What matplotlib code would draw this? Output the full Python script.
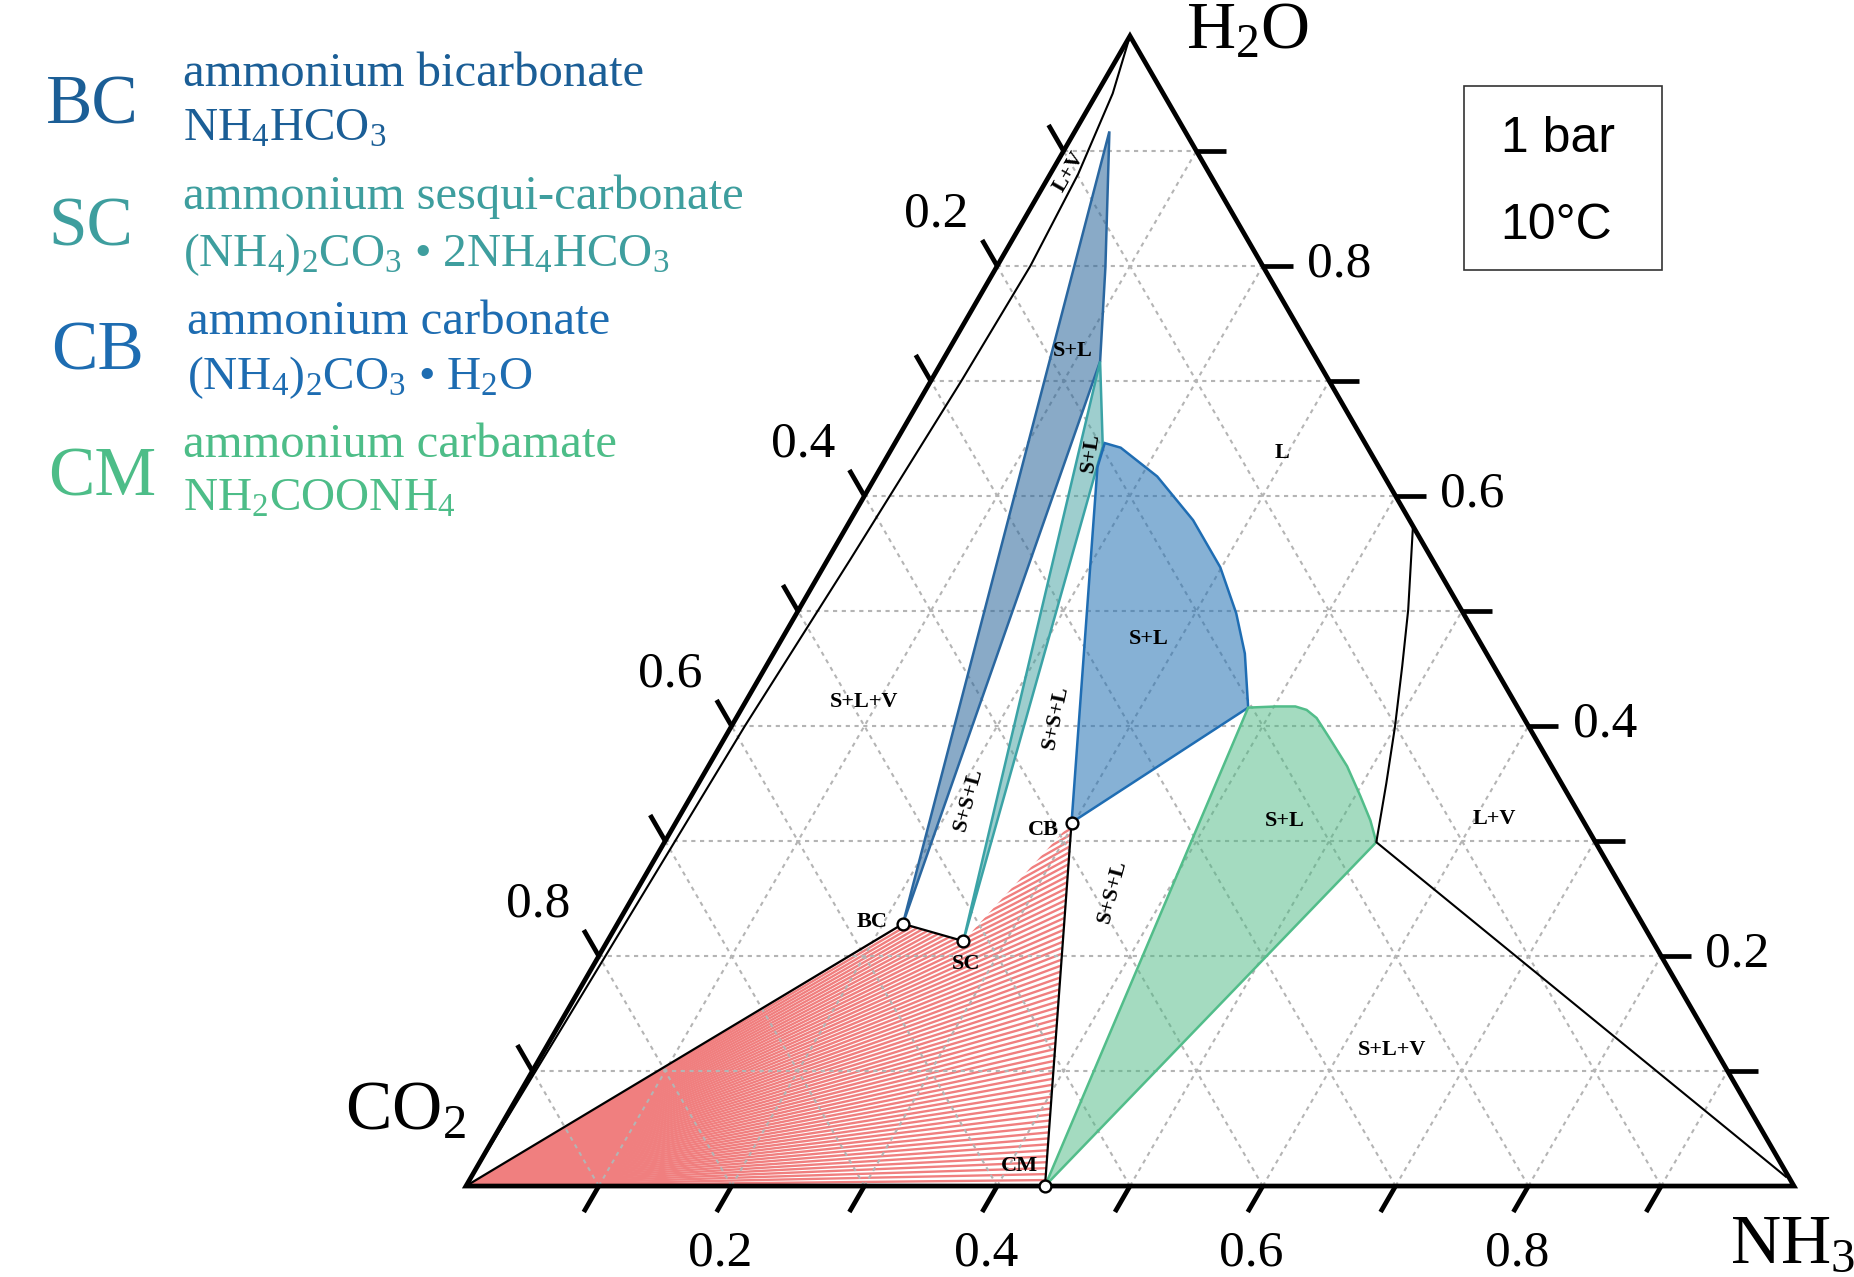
import numpy as np
import matplotlib
matplotlib.use('Agg')
import matplotlib.pyplot as plt
from matplotlib.patches import Polygon, Rectangle
from matplotlib.collections import LineCollection

plt.rcParams['font.family'] = ['Liberation Serif', 'DejaVu Serif']
plt.rcParams['mathtext.fontset'] = 'custom'
plt.rcParams['mathtext.rm'] = 'Liberation Serif'
plt.rcParams['mathtext.it'] = 'Liberation Serif:italic'
plt.rcParams['mathtext.bf'] = 'Liberation Serif:bold'

# ---------------- data (mass fractions: NH3, H2O; CO2 = 1 - NH3 - H2O) ----------------
compound_names = ['BC', 'SC', 'CB', 'CM']
compound_nh3 = [0.215, 0.268, 0.298, 0.436]
compound_h2o = [0.228, 0.213, 0.316, 0.000]

bc_region_nh3 = [0.215, 0.026, 0.082, 0.119]
bc_region_h2o = [0.228, 0.917, 0.799, 0.717]

sc_region_nh3 = [0.268, 0.119, 0.158]
sc_region_h2o = [0.213, 0.717, 0.643]

cb_region_nh3 = [0.298, 0.163, 0.158, 0.172, 0.212, 0.258, 0.299, 0.331, 0.355, 0.381]
cb_region_h2o = [0.316, 0.625, 0.646, 0.642, 0.617, 0.579, 0.538, 0.498, 0.463, 0.416]

cm_region_nh3 = [0.436, 0.381, 0.402, 0.416, 0.426, 0.437, 0.456, 0.481, 0.504, 0.522, 0.536]
cm_region_h2o = [0.000, 0.416, 0.417, 0.417, 0.414, 0.407, 0.389, 0.365, 0.339, 0.318, 0.299]

lv_left_nh3 = [0.000, 0.012, 0.021, 0.025, 0.023, 0.017, 0.010, 0.005, 0.000]
lv_left_h2o = [1.000, 0.950, 0.880, 0.800, 0.700, 0.545, 0.400, 0.200, 0.000]

lv_right_nh3 = [0.427, 0.459, 0.479, 0.500, 0.518, 0.536, 0.990]
lv_right_h2o = [0.572, 0.501, 0.452, 0.399, 0.350, 0.299, 0.008]

tick_values = [0.1, 0.2, 0.3, 0.4, 0.5, 0.6, 0.7, 0.8, 0.9]
tick_label_values = [0.2, 0.4, 0.6, 0.8]

region_labels = ['L+V', 'S+L', 'S+L', 'L', 'S+L', 'S+L+V', 'S+S+L', 'S+S+L',
                 'CB', 'BC', 'SC', 'S+S+L', 'CM', 'S+L', 'L+V', 'S+L+V']
region_label_nh3 = [0.013, 0.094, 0.151, 0.296, 0.276, 0.089, 0.240, 0.210,
                    0.280, 0.191, 0.280, 0.359, 0.408, 0.458, 0.615, 0.638]
region_label_h2o = [0.882, 0.726, 0.638, 0.637, 0.476, 0.421, 0.408, 0.336,
                    0.310, 0.230, 0.193, 0.256, 0.017, 0.317, 0.319, 0.118]
region_label_rot = [60, 0, 82, 0, 0, 0, 78, 75, 0, 0, 0, 75, 0, 0, 0, 0]

legend_abbr = ['BC', 'SC', 'CB', 'CM']
legend_name = ['ammonium bicarbonate', 'ammonium sesqui-carbonate',
               'ammonium carbonate', 'ammonium carbamate']
legend_formula = [r'NH$_4$HCO$_3$',
                  r'(NH$_4$)$_2$CO$_3$ • 2NH$_4$HCO$_3$',
                  r'(NH$_4$)$_2$CO$_3$ • H$_2$O',
                  r'NH$_2$COONH$_4$']
legend_colors = ['#1b5e96', '#3e9e9e', '#1d6cb1', '#4dbd88']

# ---------------- helpers ----------------
S = np.sqrt(3) / 2


def tc(n, h):
    n = np.asarray(n, dtype=float)
    h = np.asarray(h, dtype=float)
    return n + h / 2, h * S


W, H = 1854, 1277
fig = plt.figure(figsize=(W / 100, H / 100), dpi=100)
ax = fig.add_axes([0, 0, 1, 1])
ax.set_xlim(-0.3509, 1.0452)
ax.set_ylim(-0.0685, 0.8931)
ax.axis('off')

# ---------------- grid ----------------
grid_kw = dict(color='#b4b4b4', lw=1.5, ls=(0, (2, 2.2)), zorder=1)
for v in tick_values:
    x, y = tc([0, 1 - v], [v, v]); ax.plot(x, y, **grid_kw)
    x, y = tc([v, v], [0, 1 - v]); ax.plot(x, y, **grid_kw)
    x, y = tc([1 - v, 0], [0, 1 - v]); ax.plot(x, y, **grid_kw)

# ---------------- red tie-line fan ----------------
cx, cy = tc(compound_nh3, compound_h2o)
poly_pts = [(0, 0), (cx[0], cy[0]), (cx[1], cy[1]), (cx[2], cy[2]), (cx[3], cy[3])]
clip = Polygon(poly_pts, closed=True, fill=False, lw=0, transform=ax.transData)
ax.add_patch(clip)
nfan = 62
segs = []
for t in np.linspace(0, 1, nfan):
    ex = cx[3] + (cx[2] - cx[3]) * t
    ey = cy[3] + (cy[2] - cy[3]) * t
    segs.append([(0, 0), (ex * 1.02, ey * 1.02)])
lc = LineCollection(segs, colors='#f07f7f', linewidths=1.7, zorder=0.9)
lc.set_clip_path(clip)
ax.add_collection(lc)

# ---------------- S+L regions ----------------
def region(nh3, h2o, face, edge, alpha):
    x, y = tc(nh3, h2o)
    ax.add_patch(Polygon(np.column_stack([x, y]), closed=True, facecolor=face,
                         alpha=alpha, edgecolor='none', zorder=2))
    ax.add_patch(Polygon(np.column_stack([x, y]), closed=True, fill=False,
                         edgecolor=edge, lw=1.8, zorder=2.1))

region(bc_region_nh3, bc_region_h2o, '#286499', '#2a67a0', 0.55)
region(sc_region_nh3, sc_region_h2o, '#3f9f9f', '#3ba3a6', 0.5)
region(cb_region_nh3, cb_region_h2o, '#2371b4', '#1f6db3', 0.55)
region(cm_region_nh3, cm_region_h2o, '#4bb983', '#52bd8a', 0.5)

# ---------------- black phase boundaries ----------------
x, y = tc(lv_left_nh3, lv_left_h2o)
ax.plot(x, y, color='black', lw=1.5, zorder=3)
x, y = tc(lv_right_nh3, lv_right_h2o)
ax.plot(x, y, color='black', lw=1.5, zorder=3)
ax.plot([0, cx[0], cx[1]], [0, cy[0], cy[1]], color='black', lw=1.6, zorder=3)
ax.plot([cx[2], cx[3]], [cy[2], cy[3]], color='black', lw=1.6, zorder=3)
ax.plot(cx, cy, 'o', ms=8.5, mfc='white', mec='black', mew=1.7, zorder=6)

# ---------------- triangle frame and ticks ----------------
ax.add_patch(Polygon([(0, 0), (1, 0), (0.5, S)], closed=True, fill=False,
                     edgecolor='black', lw=3.4, joinstyle='miter', zorder=5))
TL = 30 / 1328
for v in tick_values:
    # bottom (NH3)
    x0, y0 = tc(v, 0)
    ax.plot([x0, x0 - 0.5 * TL], [y0, y0 - S * TL], color='black', lw=3.4,
            solid_capstyle='butt', zorder=5)
    # left (CO2)
    x0, y0 = tc(0, 1 - v)
    ax.plot([x0, x0 - 0.5 * TL], [y0, y0 + S * TL], color='black', lw=3.4,
            solid_capstyle='butt', zorder=5)
    # right (H2O)
    x0, y0 = tc(1 - v, v)
    ax.plot([x0, x0 + TL], [y0, y0], color='black', lw=3.4,
            solid_capstyle='butt', zorder=5)

for v in tick_label_values:
    lab = f'{v:.1f}'
    x0, y0 = tc(v, 0)
    ax.text(x0 - 0.0087, y0 - 0.0505, lab, fontsize=37, ha='center', va='center')
    x0, y0 = tc(0, 1 - v)
    ax.text(x0 - 0.0459, y0 + 0.0392, lab, fontsize=37, ha='center', va='center')
    x0, y0 = tc(1 - v, v)
    ax.text(x0 + 0.0576, y0 + 0.0015, lab, fontsize=37, ha='center', va='center')

# ---------------- region labels ----------------
for lab, n, h, r in zip(region_labels, region_label_nh3, region_label_h2o, region_label_rot):
    x, y = tc(n, h)
    ax.text(x, y, lab, fontsize=16, fontweight='bold', ha='center', va='center',
            rotation=r, rotation_mode='anchor', zorder=7)

# ---------------- vertex labels ----------------
def ftext(px, py, s, **kw):
    fig.text(px / W, 1 - py / H, s, **kw)

ftext(1186, 49, r'H$_2$O', fontsize=49, ha='left', va='baseline')
ftext(345, 1129, r'CO$_2$', fontsize=50, ha='left', va='baseline')
ftext(1730, 1262, r'NH$_3$', fontsize=50, ha='left', va='baseline')

# ---------------- legend ----------------
abbr_x = [46, 48, 51, 48]
abbr_base = [123, 246, 370, 496]
name_x = [183, 183, 187, 183]
name_base = [86, 209, 334, 457]
form_base = [141, 266, 389, 511]
for i in range(4):
    ftext(abbr_x[i], abbr_base[i], legend_abbr[i], fontsize=50, color=legend_colors[i],
          ha='left', va='baseline')
    ftext(name_x[i], name_base[i], legend_name[i], fontsize=35, color=legend_colors[i],
          ha='left', va='baseline')
    ftext(name_x[i], form_base[i], legend_formula[i], fontsize=34, color=legend_colors[i],
          ha='left', va='baseline')

# ---------------- conditions box ----------------
fig.patches.append(Rectangle((1464 / W, 1 - 270 / H), 198 / W, 184 / H,
                             transform=fig.transFigure, fill=False,
                             edgecolor='#333333', lw=1.2))
ftext(1558, 152, '1 bar', fontsize=36, family='Liberation Sans', ha='center', va='baseline')
ftext(1556, 239, '10°C', fontsize=36, family='Liberation Sans', ha='center', va='baseline')

fig.savefig('out.png', dpi=100)
